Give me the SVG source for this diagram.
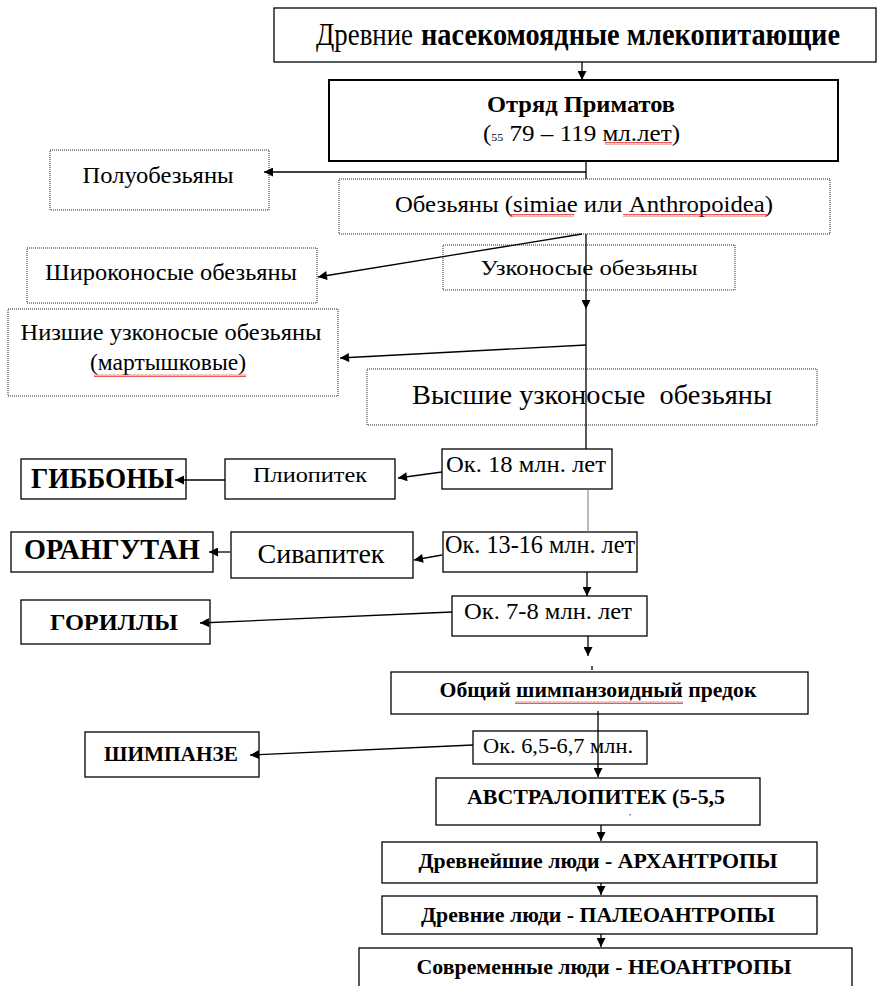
<svg xmlns="http://www.w3.org/2000/svg" width="878" height="986" viewBox="0 0 878 986">
<style>
text{font-family:"Liberation Serif","Times New Roman",serif;fill:#000}
.b{font-weight:bold}
.box{fill:#fff;stroke:#000;stroke-width:1.3}
.thick{stroke-width:2}
.dot{fill:#fff;stroke:#222;stroke-width:1;stroke-dasharray:1 1}
.c{fill:none;stroke:#000;stroke-width:1.3}
.h{marker-end:url(#ah)}
.sq{fill:url(#wavy)}
</style>
<defs>
<marker id="ah" viewBox="0 0 10 10" refX="10" refY="5" markerWidth="10" markerHeight="9" markerUnits="userSpaceOnUse" orient="auto"><path d="M0,0 L10,5 L0,10 z" fill="#000"/></marker>
<pattern id="wavy" width="4" height="3" patternUnits="userSpaceOnUse"><path d="M0,2.5 L1,0.5 L2,2.5 L3,0.5 L4,2.5" fill="none" stroke="#e03030" stroke-width="0.8"/></pattern>
</defs>

<g id="n-ancient">
<rect class="box" x="274" y="8" width="602" height="54"/>
<text font-size="32" y="45"><tspan x="316" textLength="97" lengthAdjust="spacingAndGlyphs">Древние</tspan><tspan class="b" x="421" textLength="419" lengthAdjust="spacingAndGlyphs">насекомоядные млекопитающие</tspan></text>
</g>
<g id="n-primates">
<rect class="box thick" x="329" y="80" width="509" height="81"/>
<text class="b" font-size="23" x="581" y="112" text-anchor="middle" textLength="188" lengthAdjust="spacingAndGlyphs">Отряд Приматов</text>
<text font-size="23" x="483" y="141" textLength="197" lengthAdjust="spacingAndGlyphs">(<tspan font-size="11">55</tspan> 79 – 119 мл.лет)</text>
<rect class="sq" x="605" y="142" width="67" height="3"/>
</g>
<g id="n-prosimians">
<rect class="dot" x="50" y="150" width="219" height="60"/>
<text font-size="23" x="158" y="183" text-anchor="middle" textLength="151" lengthAdjust="spacingAndGlyphs">Полуобезьяны</text>
</g>
<g id="n-monkeys">
<rect class="dot" x="339" y="179" width="491" height="55"/>
<text font-size="23" x="584" y="212" text-anchor="middle" textLength="378" lengthAdjust="spacingAndGlyphs">Обезьяны (simiae или Anthropoidea)</text>
<rect class="sq" x="510" y="214" width="64" height="3"/>
<rect class="sq" x="623" y="214" width="144" height="3"/>
</g>
<g id="n-platyrrhini">
<rect class="dot" x="27" y="248" width="290" height="55"/>
<text font-size="23" x="171" y="280" text-anchor="middle" textLength="252" lengthAdjust="spacingAndGlyphs">Широконосые обезьяны</text>
</g>
<g id="n-catarrhini">
<rect class="dot" x="443" y="245" width="292" height="45"/>
<text font-size="22" x="589" y="275" text-anchor="middle" textLength="217" lengthAdjust="spacingAndGlyphs">Узконосые обезьяны</text>
</g>
<g id="n-lower">
<rect class="dot" x="8" y="309" width="330" height="87"/>
<text font-size="23" x="171" y="340" text-anchor="middle" textLength="301" lengthAdjust="spacingAndGlyphs">Низшие узконосые обезьяны</text>
<text font-size="23" x="168" y="370" text-anchor="middle" textLength="156" lengthAdjust="spacingAndGlyphs">(мартышковые)</text>
<rect class="sq" x="94" y="374" width="152" height="3"/>
</g>
<g id="n-higher">
<rect class="dot" x="367" y="369" width="450" height="56"/>
<text font-size="28" x="592" y="404" text-anchor="middle" textLength="360" lengthAdjust="spacingAndGlyphs" xml:space="preserve">Высшие узконосые  обезьяны</text>
</g>
<g id="n-18">
<rect class="box" x="442" y="449" width="170" height="40"/>
<text font-size="24" x="526" y="472" text-anchor="middle" textLength="160" lengthAdjust="spacingAndGlyphs">Ок. 18 млн. лет</text>
</g>
<g id="n-pliopithecus">
<rect class="box" x="225" y="459" width="170" height="40"/>
<text font-size="22" x="310" y="482" text-anchor="middle" textLength="114" lengthAdjust="spacingAndGlyphs">Плиопитек</text>
</g>
<g id="n-gibbons">
<rect class="box" x="21" y="459" width="165" height="40"/>
<text class="b" font-size="29" x="31" y="488" textLength="143" lengthAdjust="spacingAndGlyphs">ГИББОНЫ</text>
</g>
<g id="n-13">
<rect class="box" x="443" y="532" width="194" height="40"/>
<text font-size="26" x="540" y="553" text-anchor="middle" textLength="190" lengthAdjust="spacingAndGlyphs">Ок. 13-16 млн. лет</text>
</g>
<g id="n-sivapithecus">
<rect class="box" x="231" y="532" width="182" height="46"/>
<text font-size="27" x="321" y="563" text-anchor="middle" textLength="127" lengthAdjust="spacingAndGlyphs">Сивапитек</text>
</g>
<g id="n-orangutan">
<rect class="box" x="11" y="532" width="202" height="40"/>
<text class="b" font-size="29" x="24" y="559" textLength="176" lengthAdjust="spacingAndGlyphs">ОРАНГУТАН</text>
</g>
<g id="n-7">
<rect class="box" x="452" y="596" width="195" height="40"/>
<text font-size="24" x="548" y="619" text-anchor="middle" textLength="168" lengthAdjust="spacingAndGlyphs">Ок. 7-8 млн. лет</text>
</g>
<g id="n-gorillas">
<rect class="box" x="21" y="600" width="189" height="44"/>
<text class="b" font-size="24" x="50" y="630" textLength="128" lengthAdjust="spacingAndGlyphs">ГОРИЛЛЫ</text>
</g>
<g id="n-common">
<rect class="box" x="391" y="672" width="417" height="42"/>
<text class="b" font-size="21" x="598" y="697" text-anchor="middle" textLength="317" lengthAdjust="spacingAndGlyphs">Общий шимпанзоидный предок</text>
<rect class="sq" x="515" y="701" width="168" height="3"/>
</g>
<g id="n-6">
<rect class="box" x="473" y="731" width="174" height="33"/>
<text font-size="20" x="558" y="753" text-anchor="middle" textLength="150" lengthAdjust="spacingAndGlyphs">Ок. 6,5-6,7 млн.</text>
</g>
<g id="n-chimp">
<rect class="box" x="85" y="732" width="174" height="45"/>
<text class="b" font-size="20" x="104" y="761" textLength="134" lengthAdjust="spacingAndGlyphs">ШИМПАНЗЕ</text>
</g>
<g id="n-australopithecus">
<rect class="box" x="436" y="778" width="324" height="47"/>
<text class="b" font-size="20" x="467" y="804" textLength="258" lengthAdjust="spacingAndGlyphs">АВСТРАЛОПИТЕК (5-5,5</text>
<rect x="629" y="814" width="2" height="1.5" fill="#999"/>
</g>
<g id="n-archanthropes">
<rect class="box" x="382" y="842" width="435" height="41"/>
<text class="b" font-size="20" x="598" y="868" text-anchor="middle" textLength="359" lengthAdjust="spacingAndGlyphs">Древнейшие люди - АРХАНТРОПЫ</text>
</g>
<g id="n-paleoanthropes">
<rect class="box" x="382" y="896" width="435" height="38"/>
<text class="b" font-size="20" x="598" y="922" text-anchor="middle" textLength="354" lengthAdjust="spacingAndGlyphs">Древние люди - ПАЛЕОАНТРОПЫ</text>
</g>
<g id="n-neoanthropes">
<rect class="box" x="359" y="948" width="493" height="45"/>
<text class="b" font-size="21" x="604" y="974" text-anchor="middle" textLength="375" lengthAdjust="spacingAndGlyphs">Современные люди - НЕОАНТРОПЫ</text>
</g>

<g id="connectors">
<path class="c h" d="M582,62 V80"/>
<path class="c" d="M586,161 V179"/>
<path class="c h" d="M586,172 H264"/>
<path class="c h" d="M582,234 L318,277"/>
<path class="c h" d="M586,234 V309"/>
<path class="c" stroke-width="2.2" d="M586,309 V449"/>
<path class="c h" d="M586,345 L340,358"/>
<path class="c h" d="M442,472 L398,478"/>
<path class="c h" d="M225,480 H175"/>
<path fill="none" stroke="#777" stroke-width="1" d="M588,489 V532"/>
<path class="c h" d="M442,555 L414,560"/>
<path class="c h" d="M230,552 H209"/>
<path class="c h" d="M587,572 V596"/>
<path class="c h" d="M452,612 L200,623"/>
<path class="c h" d="M588,636 V656"/>
<path class="c" d="M592,666 V670"/>
<path class="c h" d="M598,711 V777"/>
<path class="c h" d="M473,745 L250,755"/>
<path class="c h" d="M601,825 V841"/>
<path class="c h" d="M601,883 V895"/>
<path class="c h" d="M601,934 V947"/>
</g>
</svg>
